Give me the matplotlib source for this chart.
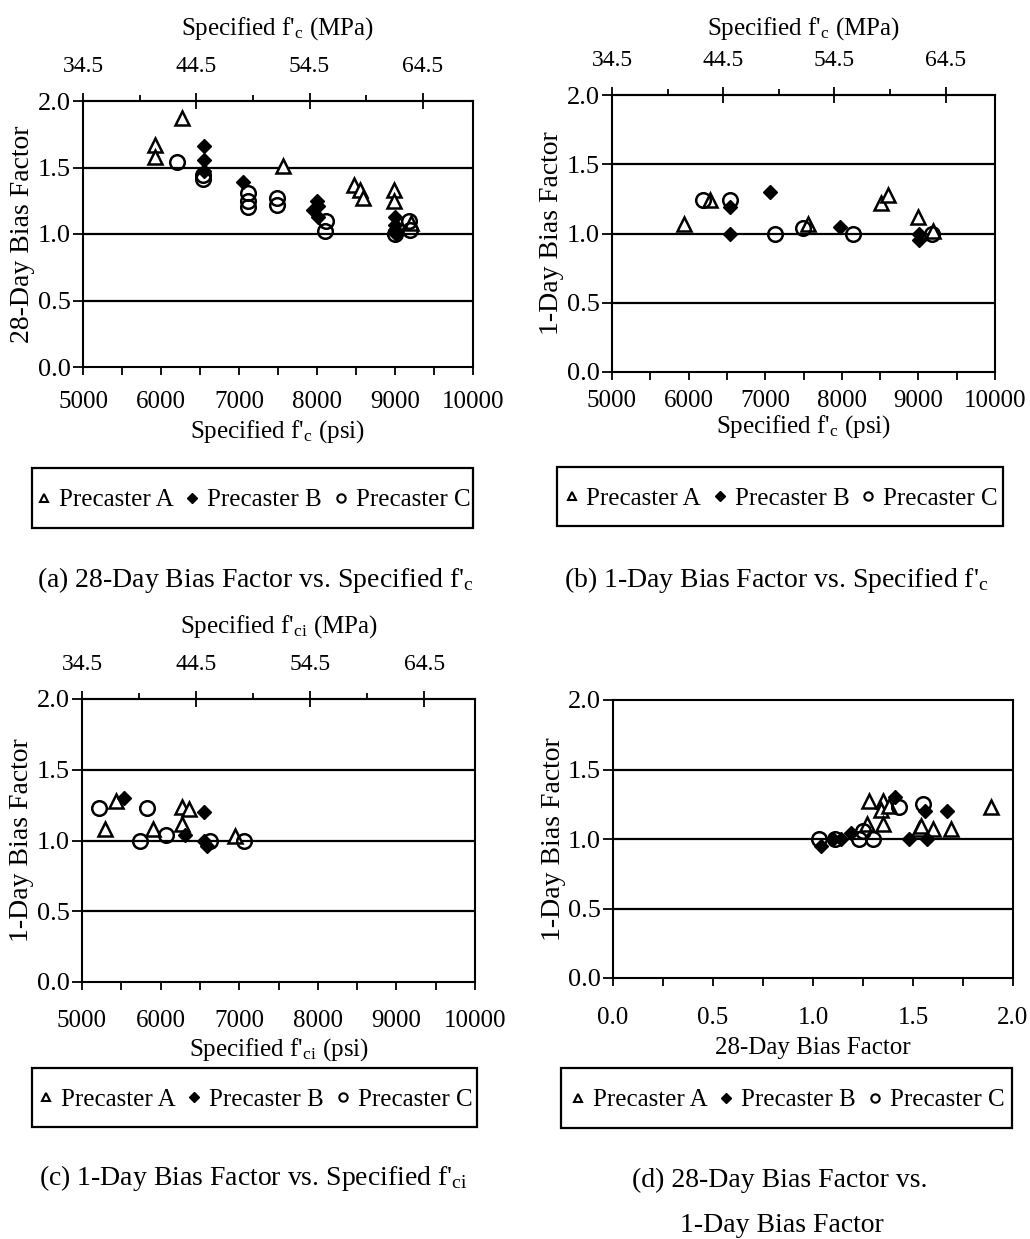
import numpy as np
import matplotlib
matplotlib.use("Agg")
import matplotlib.pyplot as plt
from matplotlib.ticker import FixedLocator, FormatStrFormatter
from matplotlib.lines import Line2D
from matplotlib.patches import Rectangle

plt.rcParams['font.family'] = ['Liberation Serif', 'DejaVu Serif']
plt.rcParams['mathtext.fontset'] = 'custom'
plt.rcParams['mathtext.rm'] = 'Liberation Serif'
plt.rcParams['mathtext.it'] = 'Liberation Serif:italic'

# ---- data ----
# (a) 28-day bias factor vs specified f'c (psi)
a_A_psi = [5920, 5920, 6270, 7565, 8480, 8545, 8590, 8990, 8990, 9200]
a_A_bf = [1.67, 1.58, 1.87, 1.51, 1.37, 1.33, 1.27, 1.33, 1.25, 1.08]
a_B_psi = [6550, 6550, 6550, 7050, 8000, 8010, 7950, 8010, 9000, 9000, 9000, 9010]
a_B_bf = [1.66, 1.56, 1.47, 1.39, 1.25, 1.21, 1.18, 1.13, 1.13, 1.07, 1.03, 1.00]
a_C_psi = [6205, 6540, 6540, 7115, 7115, 7115, 7487, 7487, 8110, 8100, 9000, 9180, 9190]
a_C_bf = [1.54, 1.44, 1.41, 1.31, 1.25, 1.20, 1.27, 1.22, 1.10, 1.02, 1.00, 1.10, 1.03]

# (b) 1-day bias factor vs specified f'c (psi)
b_A_psi = [5935, 6283, 7565, 8513, 8600, 8991, 9196]
b_A_bf = [1.07, 1.24, 1.07, 1.22, 1.28, 1.12, 1.02]
b_B_psi = [6543, 6543, 7065, 7978, 9013, 9013]
b_B_bf = [1.19, 1.00, 1.30, 1.05, 1.00, 0.95]
b_C_psi = [6187, 6543, 7130, 7491, 8143, 9174]
b_C_bf = [1.24, 1.245, 1.00, 1.04, 1.00, 1.00]

# (c) 1-day bias factor vs specified f'ci (psi)
c_A_psi = [5297, 5436, 5903, 6271, 6271, 6356, 6949]
c_A_bf = [1.08, 1.28, 1.08, 1.12, 1.24, 1.22, 1.03]
c_B_psi = [5530, 6314, 6547, 6547, 6589]
c_B_bf = [1.30, 1.04, 1.20, 1.00, 0.96]
c_C_psi = [5212, 5826, 5733, 6072, 6623, 7064]
c_C_bf = [1.23, 1.23, 1.00, 1.04, 1.00, 1.00]

# (d) 1-day bias factor vs 28-day bias factor
d_A_28 = [1.28, 1.35, 1.34, 1.27, 1.35, 1.53, 1.54, 1.60, 1.69, 1.89, 1.38]
d_A_1 = [1.27, 1.27, 1.21, 1.11, 1.11, 1.07, 1.09, 1.07, 1.07, 1.23, 1.24]
d_B_28 = [1.41, 1.67, 1.56, 1.48, 1.57, 1.19, 1.04, 1.10, 1.14]
d_B_1 = [1.30, 1.20, 1.20, 1.00, 1.00, 1.04, 0.95, 1.00, 1.00]
d_C_28 = [1.43, 1.55, 1.23, 1.30, 1.25, 1.03, 1.11]
d_C_1 = [1.23, 1.25, 1.00, 1.00, 1.06, 1.00, 1.00]

series_names = ['Precaster A', 'Precaster B', 'Precaster C']
mpa_ticks = [34.5, 44.5, 54.5, 64.5]
mpa_minor = [39.5, 49.5, 59.5]
bf_ticks = [0.0, 0.5, 1.0, 1.5, 2.0]

W, H = 1030, 1239
FS = 18
fig = plt.figure(figsize=(W / 100, H / 100), dpi=100)


def px_rect(l, t, r, b):
    return [l / W, 1 - b / H, (r - l) / W, (b - t) / H]


def psi2mpa(x):
    return np.asarray(x) * 0.00689476


def mpa2psi(x):
    return np.asarray(x) / 0.00689476


def make_panel(rect, xlabel, ylabel, bot_pad, xlab_off, top_label=None, top_pad=15):
    ax = fig.add_axes(px_rect(*rect))
    hpx = rect[3] - rect[1]
    wpx = rect[2] - rect[0]
    ax.set_ylim(0, 2)
    ax.set_yticks(bf_ticks)
    ax.yaxis.set_major_formatter(FormatStrFormatter('%.1f'))
    for yy in [0.5, 1.0, 1.5]:
        ax.axhline(yy, color='black', lw=1.6, zorder=1)
    for s in ax.spines.values():
        s.set_linewidth(1.5)
    ax.tick_params(axis='both', which='both', direction='out', width=1.3,
                   labelsize=FS, top=False, right=False)
    ax.tick_params(axis='x', which='both', length=6, pad=bot_pad)
    ax.tick_params(axis='y', length=7, pad=2, labelsize=19)
    ax.set_xlabel(xlabel, fontsize=FS, va='center')
    ax.xaxis.set_label_coords(0.5, -xlab_off / hpx)
    ax.set_ylabel(ylabel, fontsize=20, va='center')
    ax.yaxis.set_label_coords(-60 / wpx, 0.5)
    if top_label is not None:
        sec = ax.secondary_xaxis('top', functions=(psi2mpa, mpa2psi))
        sec.set_xticks(mpa_ticks)
        sec.xaxis.set_major_formatter(FormatStrFormatter('%.1f'))
        sec.xaxis.set_minor_locator(FixedLocator(mpa_minor))
        sec.tick_params(which='major', direction='inout', length=11, width=1.3,
                        pad=12, labelsize=17)
        sec.tick_params(which='minor', direction='out', length=4, width=1.3)
        sec.spines['top'].set_linewidth(1.5)
        sec.set_xlabel(top_label, fontsize=FS, labelpad=top_pad)
    return ax


def draw_series(ax, xa, ya, xb, yb, xc, yc):
    ax.plot(xa, ya, ls='none', marker='^', ms=9.5, mfc='white', mec='black', mew=1.8, zorder=3)
    ax.plot(xb, yb, ls='none', marker='D', ms=7.5, mfc='black', mec='black', mew=1, zorder=4)
    ax.plot(xc, yc, ls='none', marker='o', ms=10.5, mfc='none', mec='black', mew=1.8, zorder=5)


def add_legend(l, t, r, b):
    handles = [
        Line2D([], [], ls='none', marker='^', ms=6, mfc='white', mec='black', mew=1.5),
        Line2D([], [], ls='none', marker='D', ms=5, mfc='black', mec='black'),
        Line2D([], [], ls='none', marker='o', ms=6, mfc='white', mec='black', mew=1.5),
    ]
    x0, y0, w, h = px_rect(l, t, r, b)
    fig.patches.append(Rectangle((x0, y0), w, h, transform=fig.transFigure, fill=False,
                                 edgecolor='black', linewidth=1.6))
    fig.legend(handles, series_names, loc='center',
               bbox_to_anchor=(x0 + w / 2 + 1 / W, y0 + h / 2 - 2 / H),
               ncol=3, fontsize=18, frameon=False, handlelength=0.6, handletextpad=0.3,
               columnspacing=0.45, borderpad=0, borderaxespad=0)


fc = r"f$'_{\mathrm{c}}$"
fci = r"f$'_{\mathrm{ci}}$"

# (a)
ax_a = make_panel((83, 101, 473, 367), "Specified " + fc + " (psi)", "28-Day Bias Factor",
                  11, 65, "Specified " + fc + " (MPa)")
ax_a.set_xlim(5000, 10000)
ax_a.set_xticks(np.arange(5000, 10001, 1000))
ax_a.xaxis.set_minor_locator(FixedLocator(np.arange(5500, 10000, 1000)))
draw_series(ax_a, a_A_psi, a_A_bf, a_B_psi, a_B_bf, a_C_psi, a_C_bf)

# (b)
ax_b = make_panel((612, 95, 995, 372), "Specified " + fc + " (psi)", "1-Day Bias Factor",
                  7, 55, "Specified " + fc + " (MPa)", top_pad=11)
ax_b.set_xlim(5000, 10000)
ax_b.set_xticks(np.arange(5000, 10001, 1000))
ax_b.xaxis.set_minor_locator(FixedLocator(np.arange(5500, 10000, 1000)))
draw_series(ax_b, b_A_psi, b_A_bf, b_B_psi, b_B_bf, b_C_psi, b_C_bf)

# (c)
ax_c = make_panel((82, 699, 475, 982), "Specified " + fci + " (psi)", "1-Day Bias Factor",
                  14, 68, "Specified " + fci + " (MPa)")
ax_c.set_xlim(5000, 10000)
ax_c.set_xticks(np.arange(5000, 10001, 1000))
ax_c.xaxis.set_minor_locator(FixedLocator(np.arange(5500, 10000, 1000)))
draw_series(ax_c, c_A_psi, c_A_bf, c_B_psi, c_B_bf, c_C_psi, c_C_bf)

# (d)
ax_d = make_panel((613, 700, 1013, 978), "28-Day Bias Factor", "1-Day Bias Factor", 15, 70)
ax_d.set_xlim(0, 2)
ax_d.set_xticks(bf_ticks)
ax_d.xaxis.set_major_formatter(FormatStrFormatter('%.1f'))
ax_d.xaxis.set_minor_locator(FixedLocator([0.25, 0.75, 1.25, 1.75]))
draw_series(ax_d, d_A_28, d_A_1, d_B_28, d_B_1, d_C_28, d_C_1)

add_legend(32, 468, 473, 528)
add_legend(557, 467, 1003, 526)
add_legend(32, 1068, 477, 1127)
add_legend(561, 1068, 1012, 1128)

cap = dict(fontsize=20, ha='center', va='center')
fig.text(255 / W, 1 - 580 / H, "(a) 28-Day Bias Factor vs. Specified " + fc, **cap)
fig.text(776 / W, 1 - 580 / H, "(b) 1-Day Bias Factor vs. Specified " + fc, **cap)
fig.text(253 / W, 1 - 1178 / H, "(c) 1-Day Bias Factor vs. Specified " + fci, **cap)
fig.text(780 / W, 1 - 1180 / H, "(d) 28-Day Bias Factor vs.", **cap)
fig.text(782 / W, 1 - 1226 / H, "1-Day Bias Factor", **cap)

fig.savefig("out.png", dpi=100)
